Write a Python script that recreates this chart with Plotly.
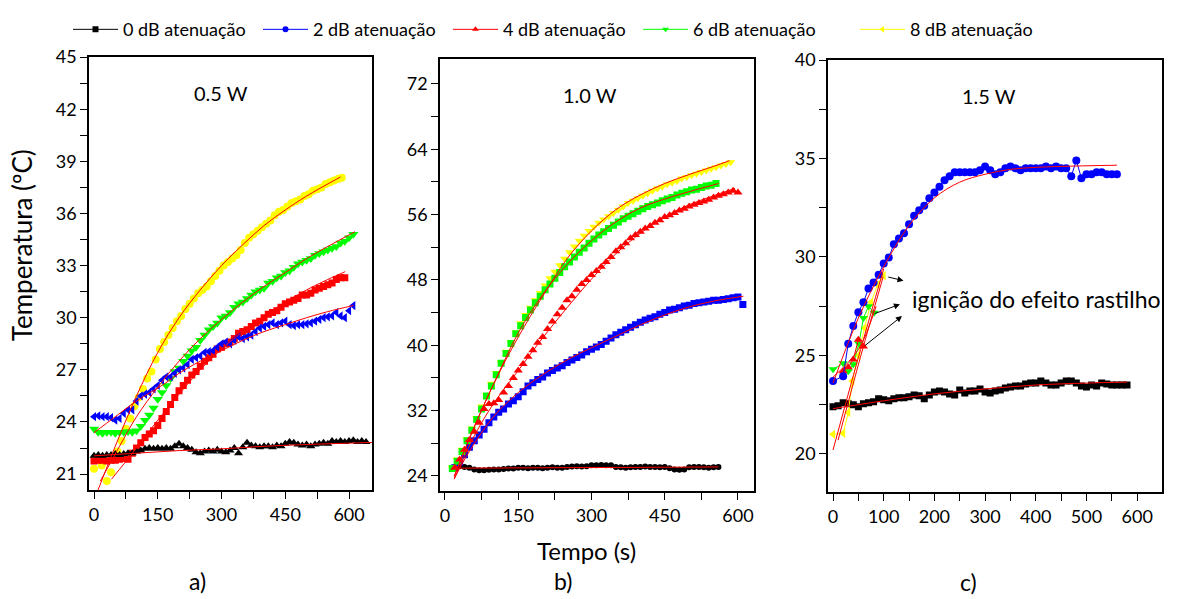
import plotly.graph_objects as go

# ---------------- Panel a) 0.5 W ----------------
A_T_BLACK = list(range(0, 650, 10))
A_BLACK = [22.05, 22.1, 22.05, 22.1, 22.1, 22.15, 22.1, 22.15, 22.2, 22.2,
           22.3, 22.35, 22.45, 22.5, 22.45, 22.5, 22.45, 22.5, 22.45, 22.6,
           22.75, 22.6, 22.5, 22.4, 22.25, 22.2, 22.3, 22.35, 22.3, 22.4,
           22.3, 22.25, 22.35, 22.5, 22.2, 22.55, 22.8, 22.65, 22.6, 22.55,
           22.6, 22.6, 22.55, 22.65, 22.6, 22.75, 22.85, 22.8, 22.7, 22.65,
           22.7, 22.6, 22.7, 22.75, 22.8, 22.75, 22.9, 22.85, 22.9, 22.85,
           22.9, 22.95, 22.85, 22.9, 22.85]
A_T_BLUE = list(range(0, 620, 10))
A_BLUE = [24.3, 24.35, 24.3, 24.3, 24.25, 24.1, 24.2, 24.5, 24.7, 24.7,
          25.2, 25.5, 25.6, 25.7, 25.9, 26.1, 26.4, 26.6, 26.6, 26.8,
          27.0, 27.1, 27.3, 27.6, 27.7, 27.8, 28.0, 28.05, 28.1, 28.3,
          28.5, 28.6, 28.5, 28.7, 28.9, 28.8, 28.9, 29.0, 29.2, 29.4,
          29.5, 29.6, 29.7, 29.6, 29.7, 29.8, 29.6, 29.55, 29.6, 29.6,
          29.65, 29.7, 29.8, 29.9, 30.0, 30.05, 30.1, 30.3, 30.1, 30.0,
          30.4, 30.7]
A_T_RED = list(range(0, 600, 10))
A_RED = [21.75, 21.8, 21.8, 21.75, 21.8, 21.8, 21.85, 21.9, 21.85, 22.2,
         22.5, 22.8, 23.1, 23.3, 23.5, 23.8, 24.2, 24.6, 25.0, 25.4,
         25.8, 26.1, 26.4, 26.7, 26.9, 27.2, 27.5, 27.7, 27.9, 28.2,
         28.3, 28.5, 28.6, 28.8, 29.1, 29.2, 29.3, 29.5, 29.7, 29.8,
         30.0, 30.2, 30.3, 30.4, 30.6, 30.8, 30.9, 31.0, 31.1, 31.3,
         31.3, 31.4, 31.6, 31.7, 31.8, 31.9, 32.0, 32.2, 32.3, 32.3]
A_T_GREEN = list(range(0, 620, 10))
A_GREEN = [23.6, 23.4, 23.35, 23.4, 23.4, 23.35, 23.4, 23.4, 23.45, 23.4,
           23.5, 23.75, 24.1, 24.4, 24.8, 25.3, 25.7, 26.1, 26.5, 26.9,
           27.1, 27.5, 27.8, 28.1, 28.3, 28.7, 29.0, 29.3, 29.5, 29.7,
           30.0, 30.1, 30.3, 30.6, 30.8, 30.9, 31.1, 31.3, 31.5, 31.6,
           31.7, 32.0, 32.1, 32.3, 32.4, 32.6, 32.7, 32.9, 33.1, 33.2,
           33.3, 33.4, 33.6, 33.7, 33.8, 33.9, 34.0, 34.1, 34.3, 34.4,
           34.6, 34.8]
A_T_YELLOW = [0, 18, 30, 40, 55, 65, 75, 85, 95, 105, 115, 125, 135, 145, 155,
              165, 175, 185, 195, 205, 215, 225, 235, 245, 255, 265, 275, 285,
              295, 305, 315, 325, 335, 345, 355, 365, 375, 385, 395, 405, 415,
              425, 435, 445, 455, 465, 475, 485, 495, 505, 515, 525, 535, 545,
              555, 565, 575, 583]
A_YELLOW = [21.3, 21.5, 20.6, 21.1, 22.3, 22.9, 23.6, 24.2, 24.9, 25.4, 25.9,
            26.5, 26.9, 27.6, 28.2, 28.6, 29.0, 29.4, 29.8, 30.1, 30.5, 30.8,
            31.1, 31.4, 31.6, 31.8, 32.1, 32.4, 32.7, 33.0, 33.2, 33.4, 33.6,
            33.9, 34.3, 34.6, 34.8, 35.0, 35.2, 35.4, 35.6, 35.9, 36.1, 36.2,
            36.4, 36.6, 36.7, 36.8, 37.0, 37.1, 37.3, 37.4, 37.5, 37.7, 37.8,
            37.9, 38.0, 38.05]
# fitted curves
A_FIT_BLACK_T = [0, 100, 200, 300, 400, 500, 655]
A_FIT_BLACK = [22.05, 22.2, 22.35, 22.45, 22.6, 22.7, 22.82]
A_FIT_BLUE_T = [0, 50, 100, 166, 200, 250, 300, 350, 400, 450, 500, 550, 610]
A_FIT_BLUE = [23.38, 24.3, 25.2, 26.2, 26.8, 27.5, 28.1, 28.7, 29.2, 29.6, 30.0, 30.35, 30.7]
A_FIT_RED_T = [41, 100, 150, 221, 250, 300, 350, 400, 450, 500, 550, 591]
A_FIT_RED = [20.7, 22.5, 24.1, 26.2, 27.0, 28.2, 29.2, 30.1, 30.9, 31.6, 32.2, 32.65]
A_FIT_GREEN_T = [15, 60, 100, 150, 200, 250, 300, 350, 400, 450, 500, 550, 614]
A_FIT_GREEN = [20.6, 22.6, 24.3, 26.0, 27.5, 28.8, 29.9, 30.9, 31.8, 32.6, 33.4, 34.1, 34.95]
A_FIT_YELLOW_T = [9, 50, 100, 150, 200, 250, 300, 350, 400, 450, 500, 580]
A_FIT_YELLOW = [20.05, 22.6, 25.5, 28.0, 30.0, 31.6, 33.0, 34.2, 35.3, 36.2, 37.0, 38.1]

# ---------------- Panel b) 1.0 W ----------------
B_T_BLACK = list(range(20, 570, 10))
B_BLACK = [25.1, 25.2, 25.1, 25.0, 24.8, 24.7, 24.7, 24.75, 24.8, 24.8,
           24.85, 24.9, 24.9, 25.0, 25.0, 24.95, 25.0, 25.0, 24.95, 25.0,
           25.05, 25.0, 25.0, 25.1, 25.15, 25.2, 25.15, 25.2, 25.3, 25.3,
           25.35, 25.3, 25.3, 25.1, 25.05, 25.0, 25.05, 25.1, 25.1, 25.15,
           25.1, 25.1, 25.05, 25.1, 24.95, 24.8, 24.75, 24.8, 25.05, 25.1,
           25.1, 25.05, 25.0, 25.05, 25.1]
B_T_BLUE = list(range(20, 620, 10))
B_BLUE = [25.0, 25.7, 26.6, 27.5, 28.3, 29.0, 29.7, 30.5, 31.2, 31.8,
          32.2, 32.8, 33.2, 33.7, 34.3, 35.0, 35.4, 35.8, 36.1, 36.6,
          36.9, 37.2, 37.5, 37.9, 38.2, 38.5, 38.8, 39.2, 39.5, 39.8,
          40.1, 40.5, 40.9, 41.3, 41.6, 41.9, 42.2, 42.5, 42.8, 43.1,
          43.3, 43.5, 43.8, 44.0, 44.3, 44.4, 44.6, 44.8, 44.9, 45.1,
          45.2, 45.3, 45.4, 45.5, 45.5, 45.6, 45.7, 45.8, 45.9, 45.0]
B_T_RED = list(range(20, 610, 10))
B_RED = [25.0, 26.0, 27.2, 28.4, 29.4, 30.5, 32.2, 32.8, 32.9, 33.3,
         34.2, 35.0, 36.0, 36.9, 37.7, 38.6, 39.4, 40.3, 41.0, 42.0,
         42.9, 43.8, 44.6, 45.5, 46.0, 46.8, 47.5, 48.0, 48.6, 49.1,
         49.6, 50.2, 50.8, 51.5, 52.0, 52.5, 53.1, 53.5, 53.9, 54.3,
         54.6, 55.0, 55.3, 55.7, 55.9, 56.2, 56.5, 56.7, 57.0, 57.2,
         57.4, 57.6, 57.8, 58.1, 58.3, 58.5, 58.7, 58.9, 58.7]
B_T_GREEN = list(range(15, 565, 10))
B_GREEN = [24.9, 25.8, 27.0, 28.3, 29.6, 30.9, 32.2, 33.8, 35.0, 36.4,
           37.8, 39.0, 40.2, 41.4, 42.4, 43.4, 44.3, 45.2, 46.0, 46.8,
           47.5, 48.2, 48.9, 49.6, 50.2, 50.8, 51.4, 51.9, 52.5, 53.0,
           53.5, 53.9, 54.3, 54.7, 55.1, 55.5, 55.8, 56.1, 56.4, 56.7,
           57.0, 57.2, 57.4, 57.7, 57.9, 58.1, 58.4, 58.6, 58.8, 59.0,
           59.1, 59.3, 59.5, 59.6, 59.8]
B_T_YELLOW = list(range(15, 595, 10))
B_YELLOW = [25.0, 26.0, 27.2, 28.5, 29.8, 31.1, 32.5, 33.9, 35.3, 36.6,
            37.9, 39.2, 40.4, 41.6, 42.7, 43.7, 44.6, 45.5, 46.4, 47.3,
            48.2, 49.0, 49.8, 50.6, 51.4, 52.1, 52.8, 53.4, 54.0, 54.5,
            55.0, 55.4, 55.8, 56.2, 56.6, 57.0, 57.4, 57.7, 58.0, 58.3,
            58.6, 58.9, 59.2, 59.4, 59.7, 59.9, 60.1, 60.4, 60.6, 60.8,
            61.0, 61.2, 61.4, 61.6, 61.8, 62.0, 62.2, 62.4]
B_FIT_BLACK_T = [20, 200, 400, 560]
B_FIT_BLACK = [24.95, 25.0, 25.05, 25.1]
B_FIT_BLUE_T = [19, 50, 100, 150, 200, 250, 300, 350, 400, 450, 500, 550, 611]
B_FIT_BLUE = [23.7, 27.0, 31.3, 34.2, 36.4, 38.2, 39.7, 41.1, 42.5, 43.7, 44.7, 45.4, 46.0]
B_FIT_RED_T = [19, 60, 100, 150, 200, 250, 300, 350, 400, 450, 500, 550, 594]
B_FIT_RED = [23.6, 28.9, 32.9, 36.9, 40.9, 44.6, 48.1, 51.2, 53.7, 55.7, 57.2, 58.3, 59.2]
B_FIT_GREEN_T = [19, 60, 100, 150, 200, 250, 300, 350, 400, 450, 500, 560]
B_FIT_GREEN = [23.9, 30.0, 35.3, 41.5, 46.2, 49.9, 52.8, 55.1, 56.8, 57.9, 58.8, 59.8]
B_FIT_YELLOW_T = [19, 60, 100, 150, 200, 250, 300, 350, 400, 450, 500, 550, 583]
B_FIT_YELLOW = [24.0, 30.0, 35.3, 41.0, 46.0, 50.6, 54.0, 56.6, 58.4, 59.8, 60.9, 61.9, 62.6]

# ---------------- Panel c) 1.5 W ----------------
C_T_BLUE = [0] + list(range(20, 570, 10))
C_BLUE = [23.7, 23.95, 25.6, 26.5, 27.2, 27.7, 28.4, 28.7, 29.1, 29.67,
          29.97, 30.65, 30.94, 31.2, 31.66, 32.1, 32.37, 32.6, 32.98, 33.28,
          33.57, 33.9, 34.1, 34.3, 34.3, 34.3, 34.3, 34.3, 34.4, 34.6,
          34.4, 34.2, 34.3, 34.5, 34.6, 34.5, 34.4, 34.5, 34.5, 34.5,
          34.5, 34.6, 34.5, 34.6, 34.5, 34.5, 34.1, 34.9, 34.0, 34.2,
          34.2, 34.3, 34.3, 34.2, 34.2, 34.2]
C_T_BLACK = list(range(0, 590, 10))
C_BLACK = [22.4, 22.45, 22.6, 22.55, 22.5, 22.4, 22.55, 22.6, 22.65, 22.8,
           22.75, 22.7, 22.8, 22.85, 22.85, 22.9, 23.0, 22.95, 22.8, 23.0,
           23.15, 23.2, 23.15, 23.05, 23.0, 23.25, 23.1, 23.2, 23.2, 23.3,
           23.15, 23.1, 23.2, 23.25, 23.35, 23.4, 23.45, 23.45, 23.55, 23.6,
           23.6, 23.7, 23.6, 23.5, 23.5, 23.6, 23.7, 23.7, 23.6, 23.45,
           23.4, 23.5, 23.45, 23.6, 23.55, 23.5, 23.5, 23.5, 23.5]
C_T_GREEN = [0, 20, 30, 40, 51, 60, 70, 81]
C_GREEN = [24.3, 24.6, 24.2, 24.55, 25.6, 26.9, 27.5, 27.17]
C_T_RED = [20, 30, 40, 50, 60]
C_RED = [24.2, 24.4, 24.8, 25.8, 25.45]
C_T_YELLOW = [0, 20, 30, 38, 50, 62, 75, 88, 100]
C_YELLOW = [21.0, 21.05, 22.1, 23.7, 25.0, 26.4, 27.7, 28.6, 29.05]
C_FIT_BLACK_T = [0, 100, 200, 300, 400, 500, 580]
C_FIT_BLACK = [22.3, 22.7, 23.05, 23.3, 23.5, 23.6, 23.65]
C_FIT_BLUE_T = [0, 50, 100, 150, 200, 250, 300, 350, 400, 450, 560]
C_FIT_BLUE = [23.6, 26.9, 29.5, 31.6, 33.0, 33.8, 34.2, 34.45, 34.55, 34.6, 34.66]
C_FIT_GREEN_T = [0, 50, 85]
C_FIT_GREEN = [23.9, 25.3, 27.5]
C_FIT_RED_T = [10, 55, 99]
C_FIT_RED = [20.7, 25.0, 29.0]
C_FIT_YELLOW_T = [0, 50, 100]
C_FIT_YELLOW = [20.2, 24.9, 29.4]

LEGEND_NAMES = ["0 dB atenuação", "2 dB atenuação", "4 dB atenuação",
                "6 dB atenuação", "8 dB atenuação"]

BLACK, BLUE, RED, GREEN, YELLOW = "#000000", "#0000FF", "#FF0000", "#00FF00", "#FFFF00"
FONT = "Lato, Roboto, 'Open Sans', sans-serif"

W, H = 1181, 599
fig = go.Figure()


def pts(x, y, color, symbol, xa, ya, size=8, mode="markers"):
    fig.add_trace(go.Scatter(x=x, y=y, mode=mode, xaxis=xa, yaxis=ya, showlegend=False,
                             line=dict(color=color, width=1),
                             marker=dict(color=color, symbol=symbol, size=size,
                                         line=dict(width=0))))


def fit(x, y, xa, ya):
    fig.add_trace(go.Scatter(x=x, y=y, mode="lines", xaxis=xa, yaxis=ya, showlegend=False,
                             line=dict(color=RED, width=1, shape="spline"),
                             hoverinfo="skip"))


# panel a
pts(A_T_YELLOW, A_YELLOW, YELLOW, "circle", "x", "y", 8)
pts(A_T_GREEN, A_GREEN, GREEN, "triangle-down", "x", "y", 9)
pts(A_T_RED, A_RED, RED, "square", "x", "y", 7)
pts(A_T_BLUE, A_BLUE, BLUE, "triangle-left", "x", "y", 8)
pts(A_T_BLACK, A_BLACK, BLACK, "triangle-up", "x", "y", 8)
for fx, fy in [(A_FIT_BLACK_T, A_FIT_BLACK), (A_FIT_BLUE_T, A_FIT_BLUE), (A_FIT_RED_T, A_FIT_RED),
               (A_FIT_GREEN_T, A_FIT_GREEN), (A_FIT_YELLOW_T, A_FIT_YELLOW)]:
    fit(fx, fy, "x", "y")

# panel b
pts(B_T_BLACK, B_BLACK, BLACK, "circle", "x2", "y2", 6)
pts(B_T_BLUE, B_BLUE, BLUE, "square", "x2", "y2", 7)
pts(B_T_YELLOW, B_YELLOW, YELLOW, "triangle-down", "x2", "y2", 8)
pts(B_T_GREEN, B_GREEN, GREEN, "square", "x2", "y2", 7)
pts(B_T_RED, B_RED, RED, "triangle-up", "x2", "y2", 8)
for fx, fy in [(B_FIT_BLACK_T, B_FIT_BLACK), (B_FIT_BLUE_T, B_FIT_BLUE), (B_FIT_RED_T, B_FIT_RED),
               (B_FIT_GREEN_T, B_FIT_GREEN), (B_FIT_YELLOW_T, B_FIT_YELLOW)]:
    fit(fx, fy, "x2", "y2")

# panel c
pts(C_T_BLACK, C_BLACK, BLACK, "square", "x3", "y3", 7, "lines+markers")
pts(C_T_YELLOW, C_YELLOW, YELLOW, "triangle-left", "x3", "y3", 8, "lines+markers")
pts(C_T_GREEN, C_GREEN, GREEN, "triangle-down", "x3", "y3", 8, "lines+markers")
pts(C_T_RED, C_RED, RED, "triangle-up", "x3", "y3", 8, "lines+markers")
pts(C_T_BLUE, C_BLUE, BLUE, "circle", "x3", "y3", 8, "lines+markers")
for fx, fy in [(C_FIT_BLACK_T, C_FIT_BLACK), (C_FIT_BLUE_T, C_FIT_BLUE), (C_FIT_RED_T, C_FIT_RED),
               (C_FIT_GREEN_T, C_FIT_GREEN), (C_FIT_YELLOW_T, C_FIT_YELLOW)]:
    fit(fx, fy, "x3", "y3")

# legend-only entries
leg_specs = [(BLACK, "square"), (BLUE, "circle"), (RED, "triangle-up"),
             (GREEN, "triangle-down"), (YELLOW, "triangle-left")]
for i, (name, (col, sym)) in enumerate(zip(LEGEND_NAMES, leg_specs)):
    fig.add_trace(go.Scatter(x=[None], y=[None], mode="lines+markers", name=name,
                             xaxis="x3", yaxis="y3",
                             legend="legend" if i < 4 else "legend2",
                             line=dict(color=col, width=1),
                             marker=dict(color=col, symbol=sym, size=6)))


def px2fx(px):
    return px / W


def py2fy(py):
    return 1 - py / H


panels = [
    # (xaxis, yaxis, left px, right px, top px, bottom px, xrange, yrange, xdtick, xminor, ydtick, yminor)
    ("x", "y", 89, 372, 46, 488, [-11.8, 654], [20.07, 45.0], 150, 75, 3, 1.5),
    ("x2", "y2", 440, 754, 48, 489, [-10.2, 632.8], [22.13, 75.04], 150, 75, 8, 4),
    ("x3", "y3", 828, 1162, 49, 490, [-9.9, 649], [18.06, 40.0], 100, 50, 5, 2.5),
]

tickfont = dict(family=FONT, size=18, color="black")
layout = {}
for k, (xa, ya, l, r, t, b, xr, yr, xd, xm, yd, ym) in enumerate(panels):
    xname = "xaxis" if xa == "x" else "xaxis" + xa[1:]
    yname = "yaxis" if ya == "y" else "yaxis" + ya[1:]
    common = dict(showgrid=False, zeroline=False, showline=True, linecolor="black",
                  linewidth=1.5, mirror=True, ticks="outside", ticklen=7, tickwidth=1.3,
                  tickcolor="black", tickfont=tickfont)
    layout[xname] = dict(domain=[px2fx(l), px2fx(r)], range=xr, anchor=ya, tick0=0, dtick=xd,
                         minor=dict(dtick=xm, tick0=0, ticks="outside", ticklen=7,
                                    tickwidth=1.3, tickcolor="black"), **common)
    layout[yname] = dict(domain=[py2fy(b), py2fy(t)], range=yr, anchor=xa, tick0=0, dtick=yd,
                         minor=dict(dtick=ym, tick0=0, ticks="outside", ticklen=7,
                                    tickwidth=1.3, tickcolor="black"), **common)
    # inside ticks on top / right via overlay axes
    ox = "xaxis" + str(4 + k)
    oy = "yaxis" + str(4 + k)
    inner = dict(showgrid=False, zeroline=False, showline=False, ticks="inside", ticklen=7,
                 tickwidth=1.3, tickcolor="black", showticklabels=False)
    layout[ox] = dict(overlaying=xa, side="top", anchor=ya, range=xr, tick0=0, dtick=xm, **inner)
    layout[oy] = dict(overlaying=ya, side="right", anchor=xa, range=yr, tick0=0, dtick=ym, **inner)


def label(px, py, text, size, angle=0):
    return dict(x=px2fx(px), y=py2fy(py), xref="paper", yref="paper", text=text,
                xanchor="center", yanchor="middle", showarrow=False, textangle=angle,
                font=dict(family=FONT, size=size, color="black"))


annotations = [
    label(221, 83, "0.5 W", 20),
    label(590, 85, "1.0 W", 20),
    label(989, 86, "1.5 W", 20),
    label(22, 238, "Temperatura (ºC)", 26, -90),
    label(586, 549, "Tempo (s)", 24),
    label(197, 581, "a)", 23),
    label(563, 581, "b)", 23),
    label(968, 582, "c)", 23),
    dict(x=152, y=27.86, xref="x3", yref="y3", xanchor="left", yanchor="middle",
         text="ignição do efeito rastilho", showarrow=False,
         font=dict(family=FONT, size=23, color="black")),
]
for (tx, ty, hx, hy) in [(106, 29.0, 139, 28.8), (79.5, 27.1, 132, 27.6), (60, 25.44, 136, 27.0)]:
    annotations.append(dict(x=hx, y=hy, ax=tx, ay=ty, xref="x3", yref="y3", axref="x3", ayref="y3",
                            showarrow=True, arrowhead=2, arrowsize=1.2, arrowwidth=1,
                            arrowcolor="black", text=""))

leg_font = dict(family=FONT, size=18, color="black")
fig.update_layout(
    width=W, height=H, margin=dict(l=0, r=0, t=0, b=0),
    paper_bgcolor="white", plot_bgcolor="white",
    annotations=annotations,
    legend=dict(orientation="h", x=px2fx(68), y=py2fy(18), xanchor="left", yanchor="middle",
                font=leg_font, itemwidth=45, entrywidth=130, entrywidthmode="pixels",
                bgcolor="rgba(0,0,0,0)", borderwidth=0, tracegroupgap=0),
    legend2=dict(orientation="h", x=px2fx(855), y=py2fy(18), xanchor="left", yanchor="middle",
                 font=leg_font, itemwidth=45, bgcolor="rgba(0,0,0,0)", borderwidth=0),
    **layout,
)

fig.write_html("out.html")
